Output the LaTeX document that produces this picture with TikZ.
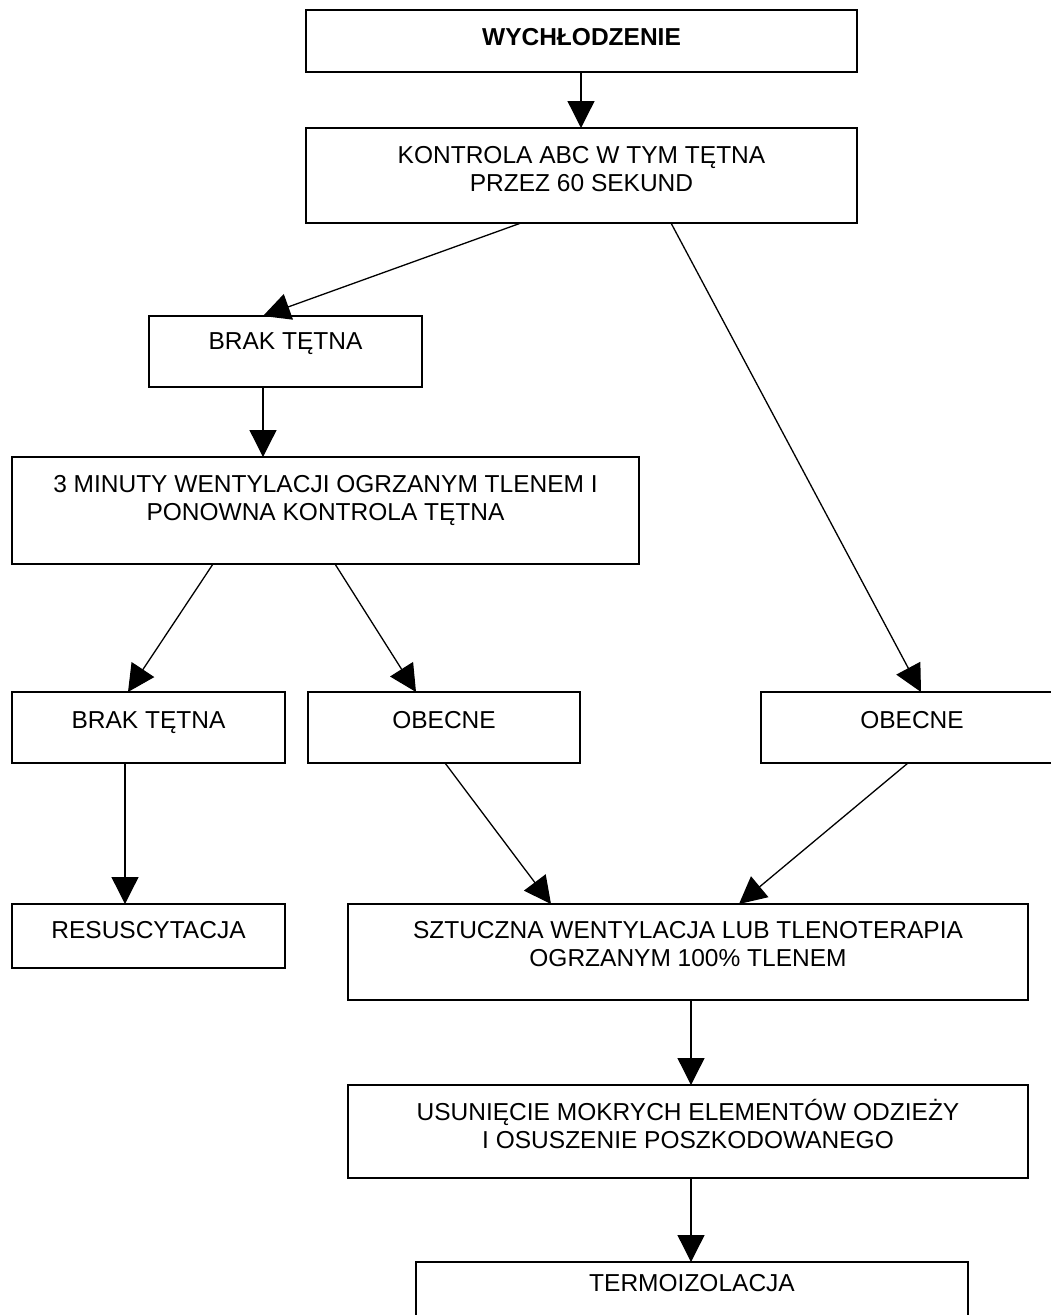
\documentclass[tikz,border=0pt]{standalone}
\usepackage{fontspec}
\setmainfont{Liberation Sans}
\usetikzlibrary{arrows.meta,calc}
\begin{document}
\begin{tikzpicture}[x=1pt,y=-1pt,
  box/.style={draw=black, line width=1.6pt, inner sep=0pt, outer sep=0pt, anchor=north west},
  txt/.style={anchor=base, inner sep=0pt, font=\fontsize{24.5}{28}\selectfont},
  btxt/.style={txt, font=\fontsize{24.5}{28}\selectfont\bfseries},
  arr/.style={draw=black, line width=1.3pt, -{Triangle[length=27pt,width=27pt]}}]
\useasboundingbox (0,0) rectangle (1051,1315);
% boxes
\node[box, minimum width=551pt, minimum height=62pt] (wych) at (306,10) {};
\node[box, minimum width=551pt, minimum height=95pt] (kontrola) at (306,128) {};
\node[box, minimum width=273pt, minimum height=71pt] (brak1) at (149,316) {};
\node[box, minimum width=627pt, minimum height=107pt] (minuty) at (12,457) {};
\node[box, minimum width=273pt, minimum height=71pt] (brak2) at (12,692) {};
\node[box, minimum width=272pt, minimum height=71pt] (obecne1) at (308,692) {};
\node[box, minimum width=302pt, minimum height=71pt] (obecne2) at (761,692) {};
\node[box, minimum width=273pt, minimum height=64pt] (resus) at (12,904) {};
\node[box, minimum width=680pt, minimum height=96pt] (sztuczna) at (348,904) {};
\node[box, minimum width=680pt, minimum height=93pt] (usun) at (348,1085) {};
\node[box, minimum width=552pt, minimum height=80pt] (termo) at (416,1262) {};
% texts
\node[btxt] (t-wych) at (581.5,45) {WYCHŁODZENIE};
\node[txt] (t-kon1) at (581.5,163) {KONTROLA ABC W TYM TĘTNA};
\node[txt] (t-kon2) at (581.5,191) {PRZEZ 60 SEKUND};
\node[txt] (t-brak1) at (285.5,349) {BRAK TĘTNA};
\node[txt] (t-min1) at (325.5,492) {3 MINUTY WENTYLACJI OGRZANYM TLENEM I};
\node[txt] (t-min2) at (325.5,520) {PONOWNA KONTROLA TĘTNA};
\node[txt] (t-brak2) at (148.5,728) {BRAK TĘTNA};
\node[txt] (t-ob1) at (444,728) {OBECNE};
\node[txt] (t-ob2) at (912,728) {OBECNE};
\node[txt] (t-res) at (148.5,938) {RESUSCYTACJA};
\node[txt] (t-szt1) at (688,938) {SZTUCZNA WENTYLACJA LUB TLENOTERAPIA};
\node[txt] (t-szt2) at (688,966) {OGRZANYM 100\% TLENEM};
\node[txt] (t-usu1) at (688,1120) {USUNIĘCIE MOKRYCH ELEMENTÓW ODZIEŻY};
\node[txt] (t-usu2) at (688,1148) {I OSUSZENIE POSZKODOWANEGO};
\node[txt] (t-ter) at (692,1291) {TERMOIZOLACJA};
% connectors
\draw[arr] (wych.south -| 581,0) -- (kontrola.north -| 581,0);
\draw[arr] (kontrola.south -| 521,0) -- (brak1.north -| 263,0);
\draw[arr] (kontrola.south -| 671,0) -- (obecne2.north -| 921,0);
\draw[arr] (brak1.south -| 263,0) -- (minuty.north -| 263,0);
\draw[arr] (minuty.south -| 213,0) -- (brak2.north -| 128,0);
\draw[arr] (minuty.south -| 335,0) -- (obecne1.north -| 416,0);
\draw[arr] (brak2.south -| 125,0) -- (resus.north -| 125,0);
\draw[arr] (obecne1.south -| 445,0) -- (sztuczna.north -| 551,0);
\draw[arr] (obecne2.south -| 908,0) -- (sztuczna.north -| 739,0);
\draw[arr] (sztuczna.south -| 691,0) -- (usun.north -| 691,0);
\draw[arr] (usun.south -| 691,0) -- (termo.north -| 691,0);
\end{tikzpicture}
\end{document}
